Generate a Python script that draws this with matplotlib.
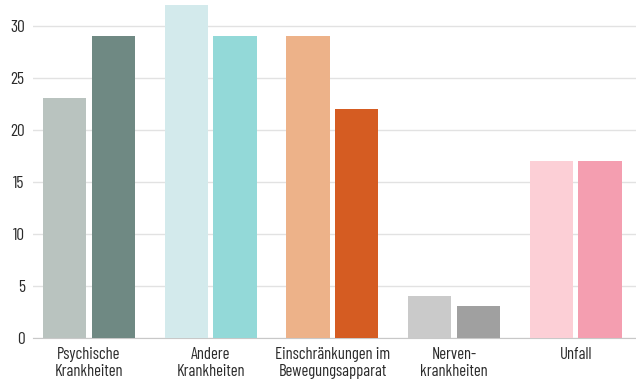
import numpy as np
import matplotlib
matplotlib.use('Agg')
import matplotlib.pyplot as plt

plt.rcParams['font.family'] = ['Barlow Condensed', 'Roboto Condensed', 'DejaVu Sans']

categories = ['Psychische\nKrankheiten', 'Andere\nKrankheiten',
              'Einschränkungen im\nBewegungsapparat', 'Nerven-\nkrankheiten', 'Unfall']
first = [23, 32, 29, 4, 17]
second = [29, 29, 22, 3, 17]

light_cols = ['#b9c3bf', '#d3eaec', '#edb289', '#cacaca', '#fccfd6']
dark_cols = ['#6f8983', '#93d9d8', '#d55c22', '#a0a0a0', '#f49eb0']

fig = plt.figure(figsize=(6.36, 3.79), dpi=100)
ax = fig.add_axes([0.052, 0.109, 0.948, 0.891])

x = np.arange(len(categories))
w = 0.357
ax.bar(x - 0.2, first, width=w, color=light_cols, zorder=3)
ax.bar(x + 0.2, second, width=w, color=dark_cols, zorder=3)

ax.set_xlim(-0.46, 4.495)
ax.set_ylim(0, 32.47)
ax.set_yticks([0, 5, 10, 15, 20, 25, 30])
ax.set_xticks(x)
ax.set_xticklabels(categories, fontsize=12, color='#2a2a2a', linespacing=1.15)
ax.tick_params(axis='y', labelsize=12.5, colors='#2a2a2a', length=0, pad=6)
ax.tick_params(axis='x', length=0, pad=7)
ax.yaxis.grid(True, color='#e2e2e2', lw=1)
ax.set_axisbelow(True)
for s in ['top', 'right', 'left']:
    ax.spines[s].set_visible(False)
ax.spines['bottom'].set_color('#c8c8c8')

plt.savefig('out.png', dpi=100)
